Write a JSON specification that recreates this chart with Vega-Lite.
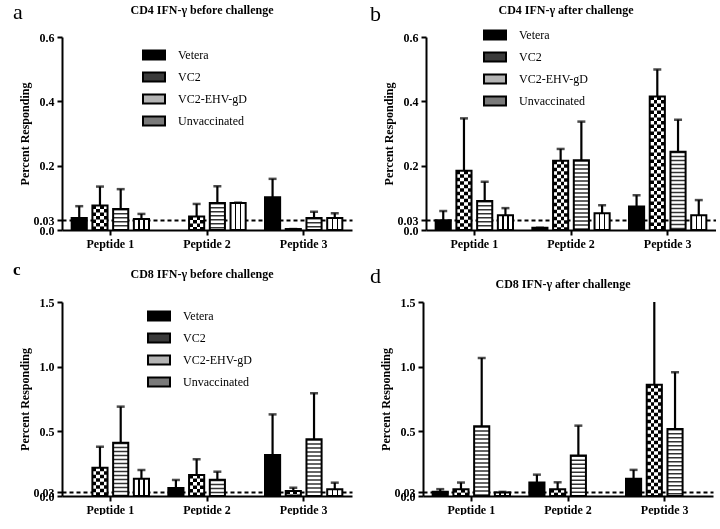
{
  "$schema": "https://vega.github.io/schema/vega-lite/v6.json",
  "padding": {"left": 13, "top": 1, "right": 0, "bottom": 0},
  "config": {
    "font": "Liberation Serif",
    "view": {"stroke": null},
    "axis": {
      "domainColor": "black", "domainWidth": 2, "tickColor": "black", "tickWidth": 2, "tickSize": 5,
      "labelFont": "Liberation Serif", "labelFontSize": 12, "labelFontWeight": "bold", "labelColor": "black", "labelPadding": 3,
      "titleFont": "Liberation Serif", "titleFontSize": 12, "titleFontWeight": "bold", "titleColor": "black"
    },
    "axisX": {"labelAngle": 0},
    "title": {"font": "Liberation Serif", "fontSize": 12, "fontWeight": "bold", "color": "black"},
    "legend": {"labelFont": "Liberation Serif", "labelFontSize": 12, "labelColor": "black", "padding": 0}
  },
  "resolve": {"legend": {"color": "independent"}},
  "spacing": 12,
  "vconcat": [
    {
      "spacing": 18,
      "resolve": {"legend": {"color": "independent"}},
      "hconcat": [
        {
          "title": {"text": "a", "anchor": "start", "fontSize": 22, "fontWeight": "normal", "offset": -20, "dx": -5},
          "resolve": {"legend": {"color": "independent"}},
          "vconcat": [
            {
              "width": 290, "height": 193,
              "title": {"text": "CD4 IFN-γ before challenge", "frame": "group", "offset": 14, "dx": -5},
              "data": {"values": [
                {"Peptide": "Peptide 1", "Group": "Vetera", "value": 0.037, "hi": 0.074},
                {"Peptide": "Peptide 1", "Group": "VC2", "value": 0.076, "hi": 0.135},
                {"Peptide": "Peptide 1", "Group": "VC2-EHV-gD", "value": 0.065, "hi": 0.127},
                {"Peptide": "Peptide 1", "Group": "Unvaccinated", "value": 0.034, "hi": 0.05},
                {"Peptide": "Peptide 2", "Group": "VC2", "value": 0.042, "hi": 0.081},
                {"Peptide": "Peptide 2", "Group": "VC2-EHV-gD", "value": 0.084, "hi": 0.136},
                {"Peptide": "Peptide 2", "Group": "Unvaccinated", "value": 0.084, "hi": 0.085},
                {"Peptide": "Peptide 3", "Group": "Vetera", "value": 0.102, "hi": 0.159},
                {"Peptide": "Peptide 3", "Group": "VC2", "value": 0.003, "hi": 0.003},
                {"Peptide": "Peptide 3", "Group": "VC2-EHV-gD", "value": 0.037, "hi": 0.057},
                {"Peptide": "Peptide 3", "Group": "Unvaccinated", "value": 0.037, "hi": 0.052}
              ]},
              "encoding": {
                "x": {"field": "Peptide", "type": "nominal", "scale": {"paddingInner": 0.2, "paddingOuter": 0.1}, "axis": {"title": null}},
                "xOffset": {"field": "Group", "type": "nominal", "scale": {"domain": ["Vetera", "VC2", "VC2-EHV-gD", "Unvaccinated"], "paddingInner": 0.27, "paddingOuter": 0}},
                "y": {"field": "value", "type": "quantitative", "scale": {"domain": [0, 0.6], "nice": false},
                  "axis": {"title": "Percent Responding", "titlePadding": 2, "values": [0, 0.03, 0.2, 0.4, 0.6], "labelOverlap": false, "labelFlush": false,
                    "labelExpr": "datum.value === 0 ? '0.0' : datum.value === 0.03 ? '0.03' : format(datum.value, '.1f')",
                    "grid": true, "gridColor": "black", "gridWidth": 2, "gridDash": [4, 3],
                    "gridOpacity": {"condition": {"test": "datum.value === 0.03", "value": 1}, "value": 0}}}
              },
              "layer": [
                {"mark": {"type": "bar", "strokeWidth": 0},
                 "encoding": {"color": {"field": "Group", "type": "nominal",
                   "scale": {"domain": ["Vetera", "VC2", "VC2-EHV-gD", "Unvaccinated"], "range": ["black", "#3a3a3a", "#b4b4b4", "#7a7a7a"]},
                   "legend": {"orient": "none", "legendX": 80, "legendY": 6, "title": null, "symbolType": "M-1,-0.4H1V0.4H-1Z", "symbolSize": 484,
                     "symbolStrokeColor": "black", "symbolStrokeWidth": 2, "symbolOpacity": 1, "labelOffset": 12, "rowPadding": 1}}}},
                {"transform": [{"filter": "datum.Group !== 'Vetera'"}], "mark": {"type": "bar", "fill": "white", "strokeWidth": 0}},
                {"transform": [{"filter": "datum.Group === 'VC2'"}], "mark": {"type": "rule", "color": "black", "strokeWidth": 15, "strokeDash": [3.5, 3.5]}, "encoding": {"y2": {"datum": 0}}},
                {"transform": [{"filter": "datum.Group === 'VC2'"}], "mark": {"type": "bar", "blend": "difference", "strokeWidth": 0,
                  "fill": {"gradient": "linear", "x1": 0, "y1": 0, "x2": 1, "y2": 0, "stops": [
                    {"offset": 0, "color": "rgba(255,255,255,0)"}, {"offset": 0.25, "color": "rgba(255,255,255,0)"},
                    {"offset": 0.25, "color": "white"}, {"offset": 0.5, "color": "white"},
                    {"offset": 0.5, "color": "rgba(255,255,255,0)"}, {"offset": 0.75, "color": "rgba(255,255,255,0)"},
                    {"offset": 0.75, "color": "white"}, {"offset": 1, "color": "white"}]}}},
                {"transform": [{"filter": "datum.Group === 'VC2-EHV-gD'"}], "mark": {"type": "rule", "color": "#333", "strokeWidth": 15, "strokeDash": [1.5, 2.5]}, "encoding": {"y2": {"datum": 0}}},
                {"transform": [{"filter": "datum.Group === 'Unvaccinated'"}], "mark": {"type": "bar", "strokeWidth": 0,
                  "fill": {"gradient": "linear", "x1": 0, "y1": 0, "x2": 1, "y2": 0, "stops": [
                    {"offset": 0, "color": "white"}, {"offset": 0.29, "color": "white"},
                    {"offset": 0.29, "color": "black"}, {"offset": 0.38, "color": "black"},
                    {"offset": 0.38, "color": "white"}, {"offset": 0.62, "color": "white"},
                    {"offset": 0.62, "color": "black"}, {"offset": 0.71, "color": "black"},
                    {"offset": 0.71, "color": "white"}, {"offset": 1, "color": "white"}]}}},
                {"mark": {"type": "bar", "fillOpacity": 0, "stroke": "black", "strokeWidth": 2}},
                {"mark": {"type": "rule", "color": "black", "strokeWidth": 2.2, "clip": true}, "encoding": {"y2": {"field": "hi"}}},
                {"mark": {"type": "tick", "color": "black", "thickness": 2.5, "size": 8, "clip": true}, "encoding": {"y": {"field": "hi", "type": "quantitative"}}}
              ]
            }
          ]
        },
        {
          "title": {"text": "b", "anchor": "start", "fontSize": 22, "fontWeight": "normal", "offset": -22, "dx": -12},
          "resolve": {"legend": {"color": "independent"}},
          "vconcat": [
            {
              "width": 290, "height": 193,
              "title": {"text": "CD4 IFN-γ after challenge", "frame": "group", "offset": 6, "dx": -5},
              "data": {"values": [
                {"Peptide": "Peptide 1", "Group": "Vetera", "value": 0.030, "hi": 0.059},
                {"Peptide": "Peptide 1", "Group": "VC2", "value": 0.184, "hi": 0.347},
                {"Peptide": "Peptide 1", "Group": "VC2-EHV-gD", "value": 0.090, "hi": 0.150},
                {"Peptide": "Peptide 1", "Group": "Unvaccinated", "value": 0.046, "hi": 0.068},
                {"Peptide": "Peptide 2", "Group": "Vetera", "value": 0.007, "hi": 0.007},
                {"Peptide": "Peptide 2", "Group": "VC2", "value": 0.215, "hi": 0.252},
                {"Peptide": "Peptide 2", "Group": "VC2-EHV-gD", "value": 0.217, "hi": 0.337},
                {"Peptide": "Peptide 2", "Group": "Unvaccinated", "value": 0.052, "hi": 0.077},
                {"Peptide": "Peptide 3", "Group": "Vetera", "value": 0.073, "hi": 0.108},
                {"Peptide": "Peptide 3", "Group": "VC2", "value": 0.415, "hi": 0.499},
                {"Peptide": "Peptide 3", "Group": "VC2-EHV-gD", "value": 0.243, "hi": 0.343},
                {"Peptide": "Peptide 3", "Group": "Unvaccinated", "value": 0.046, "hi": 0.093}
              ]},
              "encoding": {
                "x": {"field": "Peptide", "type": "nominal", "scale": {"paddingInner": 0.2, "paddingOuter": 0.1}, "axis": {"title": null}},
                "xOffset": {"field": "Group", "type": "nominal", "scale": {"domain": ["Vetera", "VC2", "VC2-EHV-gD", "Unvaccinated"], "paddingInner": 0.27, "paddingOuter": 0}},
                "y": {"field": "value", "type": "quantitative", "scale": {"domain": [0, 0.6], "nice": false},
                  "axis": {"title": "Percent Responding", "titlePadding": 2, "values": [0, 0.03, 0.2, 0.4, 0.6], "labelOverlap": false, "labelFlush": false,
                    "labelExpr": "datum.value === 0 ? '0.0' : datum.value === 0.03 ? '0.03' : format(datum.value, '.1f')",
                    "grid": true, "gridColor": "black", "gridWidth": 2, "gridDash": [4, 3],
                    "gridOpacity": {"condition": {"test": "datum.value === 0.03", "value": 1}, "value": 0}}}
              },
              "layer": [
                {"mark": {"type": "bar", "strokeWidth": 0},
                 "encoding": {"color": {"field": "Group", "type": "nominal",
                   "scale": {"domain": ["Vetera", "VC2", "VC2-EHV-gD", "Unvaccinated"], "range": ["black", "#3a3a3a", "#b4b4b4", "#7a7a7a"]},
                   "legend": {"orient": "none", "legendX": 57, "legendY": -14, "title": null, "symbolType": "M-1,-0.4H1V0.4H-1Z", "symbolSize": 484,
                     "symbolStrokeColor": "black", "symbolStrokeWidth": 2, "symbolOpacity": 1, "labelOffset": 12, "rowPadding": 1}}}},
                {"transform": [{"filter": "datum.Group !== 'Vetera'"}], "mark": {"type": "bar", "fill": "white", "strokeWidth": 0}},
                {"transform": [{"filter": "datum.Group === 'VC2'"}], "mark": {"type": "rule", "color": "black", "strokeWidth": 15, "strokeDash": [3.5, 3.5]}, "encoding": {"y2": {"datum": 0}}},
                {"transform": [{"filter": "datum.Group === 'VC2'"}], "mark": {"type": "bar", "blend": "difference", "strokeWidth": 0,
                  "fill": {"gradient": "linear", "x1": 0, "y1": 0, "x2": 1, "y2": 0, "stops": [
                    {"offset": 0, "color": "rgba(255,255,255,0)"}, {"offset": 0.25, "color": "rgba(255,255,255,0)"},
                    {"offset": 0.25, "color": "white"}, {"offset": 0.5, "color": "white"},
                    {"offset": 0.5, "color": "rgba(255,255,255,0)"}, {"offset": 0.75, "color": "rgba(255,255,255,0)"},
                    {"offset": 0.75, "color": "white"}, {"offset": 1, "color": "white"}]}}},
                {"transform": [{"filter": "datum.Group === 'VC2-EHV-gD'"}], "mark": {"type": "rule", "color": "#333", "strokeWidth": 15, "strokeDash": [1.5, 2.5]}, "encoding": {"y2": {"datum": 0}}},
                {"transform": [{"filter": "datum.Group === 'Unvaccinated'"}], "mark": {"type": "bar", "strokeWidth": 0,
                  "fill": {"gradient": "linear", "x1": 0, "y1": 0, "x2": 1, "y2": 0, "stops": [
                    {"offset": 0, "color": "white"}, {"offset": 0.29, "color": "white"},
                    {"offset": 0.29, "color": "black"}, {"offset": 0.38, "color": "black"},
                    {"offset": 0.38, "color": "white"}, {"offset": 0.62, "color": "white"},
                    {"offset": 0.62, "color": "black"}, {"offset": 0.71, "color": "black"},
                    {"offset": 0.71, "color": "white"}, {"offset": 1, "color": "white"}]}}},
                {"mark": {"type": "bar", "fillOpacity": 0, "stroke": "black", "strokeWidth": 2}},
                {"mark": {"type": "rule", "color": "black", "strokeWidth": 2.2, "clip": true}, "encoding": {"y2": {"field": "hi"}}},
                {"mark": {"type": "tick", "color": "black", "thickness": 2.5, "size": 8, "clip": true}, "encoding": {"y": {"field": "hi", "type": "quantitative"}}}
              ]
            }
          ]
        }
      ]
    },
    {
      "spacing": 18,
      "resolve": {"legend": {"color": "independent"}},
      "hconcat": [
        {
          "title": {"text": "c", "anchor": "start", "fontSize": 17, "fontWeight": "bold", "offset": -11, "dx": -5},
          "resolve": {"legend": {"color": "independent"}},
          "vconcat": [
            {
              "width": 290, "height": 194,
              "title": {"text": "CD8 IFN-γ before challenge", "frame": "group", "offset": 15, "dx": -5},
              "data": {"values": [
                {"Peptide": "Peptide 1", "Group": "VC2", "value": 0.219, "hi": 0.381},
                {"Peptide": "Peptide 1", "Group": "VC2-EHV-gD", "value": 0.412, "hi": 0.691},
                {"Peptide": "Peptide 1", "Group": "Unvaccinated", "value": 0.134, "hi": 0.201},
                {"Peptide": "Peptide 2", "Group": "Vetera", "value": 0.062, "hi": 0.124},
                {"Peptide": "Peptide 2", "Group": "VC2", "value": 0.162, "hi": 0.284},
                {"Peptide": "Peptide 2", "Group": "VC2-EHV-gD", "value": 0.126, "hi": 0.188},
                {"Peptide": "Peptide 3", "Group": "Vetera", "value": 0.317, "hi": 0.631},
                {"Peptide": "Peptide 3", "Group": "VC2", "value": 0.039, "hi": 0.064},
                {"Peptide": "Peptide 3", "Group": "VC2-EHV-gD", "value": 0.438, "hi": 0.794},
                {"Peptide": "Peptide 3", "Group": "Unvaccinated", "value": 0.052, "hi": 0.103}
              ]},
              "encoding": {
                "x": {"field": "Peptide", "type": "nominal", "scale": {"paddingInner": 0.2, "paddingOuter": 0.1}, "axis": {"title": null}},
                "xOffset": {"field": "Group", "type": "nominal", "scale": {"domain": ["Vetera", "VC2", "VC2-EHV-gD", "Unvaccinated"], "paddingInner": 0.27, "paddingOuter": 0}},
                "y": {"field": "value", "type": "quantitative", "scale": {"domain": [0, 1.5], "nice": false},
                  "axis": {"title": "Percent Responding", "titlePadding": 2, "values": [0, 0.03, 0.5, 1.0, 1.5], "labelOverlap": false, "labelFlush": false,
                    "labelExpr": "datum.value === 0 ? '0.0' : datum.value === 0.03 ? '0.03' : format(datum.value, '.1f')",
                    "grid": true, "gridColor": "black", "gridWidth": 2, "gridDash": [4, 3],
                    "gridOpacity": {"condition": {"test": "datum.value === 0.03", "value": 1}, "value": 0}}}
              },
              "layer": [
                {"mark": {"type": "bar", "strokeWidth": 0},
                 "encoding": {"color": {"field": "Group", "type": "nominal",
                   "scale": {"domain": ["Vetera", "VC2", "VC2-EHV-gD", "Unvaccinated"], "range": ["black", "#3a3a3a", "#b4b4b4", "#7a7a7a"]},
                   "legend": {"orient": "none", "legendX": 85, "legendY": 2, "title": null, "symbolType": "M-1,-0.4H1V0.4H-1Z", "symbolSize": 484,
                     "symbolStrokeColor": "black", "symbolStrokeWidth": 2, "symbolOpacity": 1, "labelOffset": 12, "rowPadding": 1}}}},
                {"transform": [{"filter": "datum.Group !== 'Vetera'"}], "mark": {"type": "bar", "fill": "white", "strokeWidth": 0}},
                {"transform": [{"filter": "datum.Group === 'VC2'"}], "mark": {"type": "rule", "color": "black", "strokeWidth": 15, "strokeDash": [3.5, 3.5]}, "encoding": {"y2": {"datum": 0}}},
                {"transform": [{"filter": "datum.Group === 'VC2'"}], "mark": {"type": "bar", "blend": "difference", "strokeWidth": 0,
                  "fill": {"gradient": "linear", "x1": 0, "y1": 0, "x2": 1, "y2": 0, "stops": [
                    {"offset": 0, "color": "rgba(255,255,255,0)"}, {"offset": 0.25, "color": "rgba(255,255,255,0)"},
                    {"offset": 0.25, "color": "white"}, {"offset": 0.5, "color": "white"},
                    {"offset": 0.5, "color": "rgba(255,255,255,0)"}, {"offset": 0.75, "color": "rgba(255,255,255,0)"},
                    {"offset": 0.75, "color": "white"}, {"offset": 1, "color": "white"}]}}},
                {"transform": [{"filter": "datum.Group === 'VC2-EHV-gD'"}], "mark": {"type": "rule", "color": "#333", "strokeWidth": 15, "strokeDash": [1.5, 2.5]}, "encoding": {"y2": {"datum": 0}}},
                {"transform": [{"filter": "datum.Group === 'Unvaccinated'"}], "mark": {"type": "bar", "strokeWidth": 0,
                  "fill": {"gradient": "linear", "x1": 0, "y1": 0, "x2": 1, "y2": 0, "stops": [
                    {"offset": 0, "color": "white"}, {"offset": 0.29, "color": "white"},
                    {"offset": 0.29, "color": "black"}, {"offset": 0.38, "color": "black"},
                    {"offset": 0.38, "color": "white"}, {"offset": 0.62, "color": "white"},
                    {"offset": 0.62, "color": "black"}, {"offset": 0.71, "color": "black"},
                    {"offset": 0.71, "color": "white"}, {"offset": 1, "color": "white"}]}}},
                {"mark": {"type": "bar", "fillOpacity": 0, "stroke": "black", "strokeWidth": 2}},
                {"mark": {"type": "rule", "color": "black", "strokeWidth": 2.2, "clip": true}, "encoding": {"y2": {"field": "hi"}}},
                {"mark": {"type": "tick", "color": "black", "thickness": 2.5, "size": 8, "clip": true}, "encoding": {"y": {"field": "hi", "type": "quantitative"}}}
              ]
            }
          ]
        },
        {
          "title": {"text": "d", "anchor": "start", "fontSize": 22, "fontWeight": "normal", "offset": -10, "dx": -9},
          "resolve": {"legend": {"color": "independent"}},
          "vconcat": [
            {
              "width": 290, "height": 194,
              "title": {"text": "CD8 IFN-γ after challenge", "frame": "group", "offset": 5, "dx": -5},
              "data": {"values": [
                {"Peptide": "Peptide 1", "Group": "Vetera", "value": 0.032, "hi": 0.053},
                {"Peptide": "Peptide 1", "Group": "VC2", "value": 0.053, "hi": 0.104},
                {"Peptide": "Peptide 1", "Group": "VC2-EHV-gD", "value": 0.539, "hi": 1.067},
                {"Peptide": "Peptide 1", "Group": "Unvaccinated", "value": 0.027, "hi": 0.032},
                {"Peptide": "Peptide 2", "Group": "Vetera", "value": 0.104, "hi": 0.165},
                {"Peptide": "Peptide 2", "Group": "VC2", "value": 0.053, "hi": 0.106},
                {"Peptide": "Peptide 2", "Group": "VC2-EHV-gD", "value": 0.313, "hi": 0.544},
                {"Peptide": "Peptide 3", "Group": "Vetera", "value": 0.133, "hi": 0.202},
                {"Peptide": "Peptide 3", "Group": "VC2", "value": 0.86, "hi": 1.56},
                {"Peptide": "Peptide 3", "Group": "VC2-EHV-gD", "value": 0.518, "hi": 0.956}
              ]},
              "encoding": {
                "x": {"field": "Peptide", "type": "nominal", "scale": {"paddingInner": 0.2, "paddingOuter": 0.1}, "axis": {"title": null}},
                "xOffset": {"field": "Group", "type": "nominal", "scale": {"domain": ["Vetera", "VC2", "VC2-EHV-gD", "Unvaccinated"], "paddingInner": 0.27, "paddingOuter": 0}},
                "y": {"field": "value", "type": "quantitative", "scale": {"domain": [0, 1.5], "nice": false},
                  "axis": {"title": "Percent Responding", "titlePadding": 2, "values": [0, 0.03, 0.5, 1.0, 1.5], "labelOverlap": false, "labelFlush": false,
                    "labelExpr": "datum.value === 0 ? '0.0' : datum.value === 0.03 ? '0.03' : format(datum.value, '.1f')",
                    "grid": true, "gridColor": "black", "gridWidth": 2, "gridDash": [4, 3],
                    "gridOpacity": {"condition": {"test": "datum.value === 0.03", "value": 1}, "value": 0}}}
              },
              "layer": [
                {"mark": {"type": "bar", "strokeWidth": 0},
                 "encoding": {"color": {"field": "Group", "type": "nominal",
                   "scale": {"domain": ["Vetera", "VC2", "VC2-EHV-gD", "Unvaccinated"], "range": ["black", "#3a3a3a", "#b4b4b4", "#7a7a7a"]},
                   "legend": null}}},
                {"transform": [{"filter": "datum.Group !== 'Vetera'"}], "mark": {"type": "bar", "fill": "white", "strokeWidth": 0}},
                {"transform": [{"filter": "datum.Group === 'VC2'"}], "mark": {"type": "rule", "color": "black", "strokeWidth": 15, "strokeDash": [3.5, 3.5]}, "encoding": {"y2": {"datum": 0}}},
                {"transform": [{"filter": "datum.Group === 'VC2'"}], "mark": {"type": "bar", "blend": "difference", "strokeWidth": 0,
                  "fill": {"gradient": "linear", "x1": 0, "y1": 0, "x2": 1, "y2": 0, "stops": [
                    {"offset": 0, "color": "rgba(255,255,255,0)"}, {"offset": 0.25, "color": "rgba(255,255,255,0)"},
                    {"offset": 0.25, "color": "white"}, {"offset": 0.5, "color": "white"},
                    {"offset": 0.5, "color": "rgba(255,255,255,0)"}, {"offset": 0.75, "color": "rgba(255,255,255,0)"},
                    {"offset": 0.75, "color": "white"}, {"offset": 1, "color": "white"}]}}},
                {"transform": [{"filter": "datum.Group === 'VC2-EHV-gD'"}], "mark": {"type": "rule", "color": "#333", "strokeWidth": 15, "strokeDash": [1.5, 2.5]}, "encoding": {"y2": {"datum": 0}}},
                {"transform": [{"filter": "datum.Group === 'Unvaccinated'"}], "mark": {"type": "bar", "strokeWidth": 0,
                  "fill": {"gradient": "linear", "x1": 0, "y1": 0, "x2": 1, "y2": 0, "stops": [
                    {"offset": 0, "color": "white"}, {"offset": 0.29, "color": "white"},
                    {"offset": 0.29, "color": "black"}, {"offset": 0.38, "color": "black"},
                    {"offset": 0.38, "color": "white"}, {"offset": 0.62, "color": "white"},
                    {"offset": 0.62, "color": "black"}, {"offset": 0.71, "color": "black"},
                    {"offset": 0.71, "color": "white"}, {"offset": 1, "color": "white"}]}}},
                {"mark": {"type": "bar", "fillOpacity": 0, "stroke": "black", "strokeWidth": 2}},
                {"mark": {"type": "rule", "color": "black", "strokeWidth": 2.2, "clip": true}, "encoding": {"y2": {"field": "hi"}}},
                {"mark": {"type": "tick", "color": "black", "thickness": 2.5, "size": 8, "clip": true}, "encoding": {"y": {"field": "hi", "type": "quantitative"}}}
              ]
            }
          ]
        }
      ]
    }
  ]
}
